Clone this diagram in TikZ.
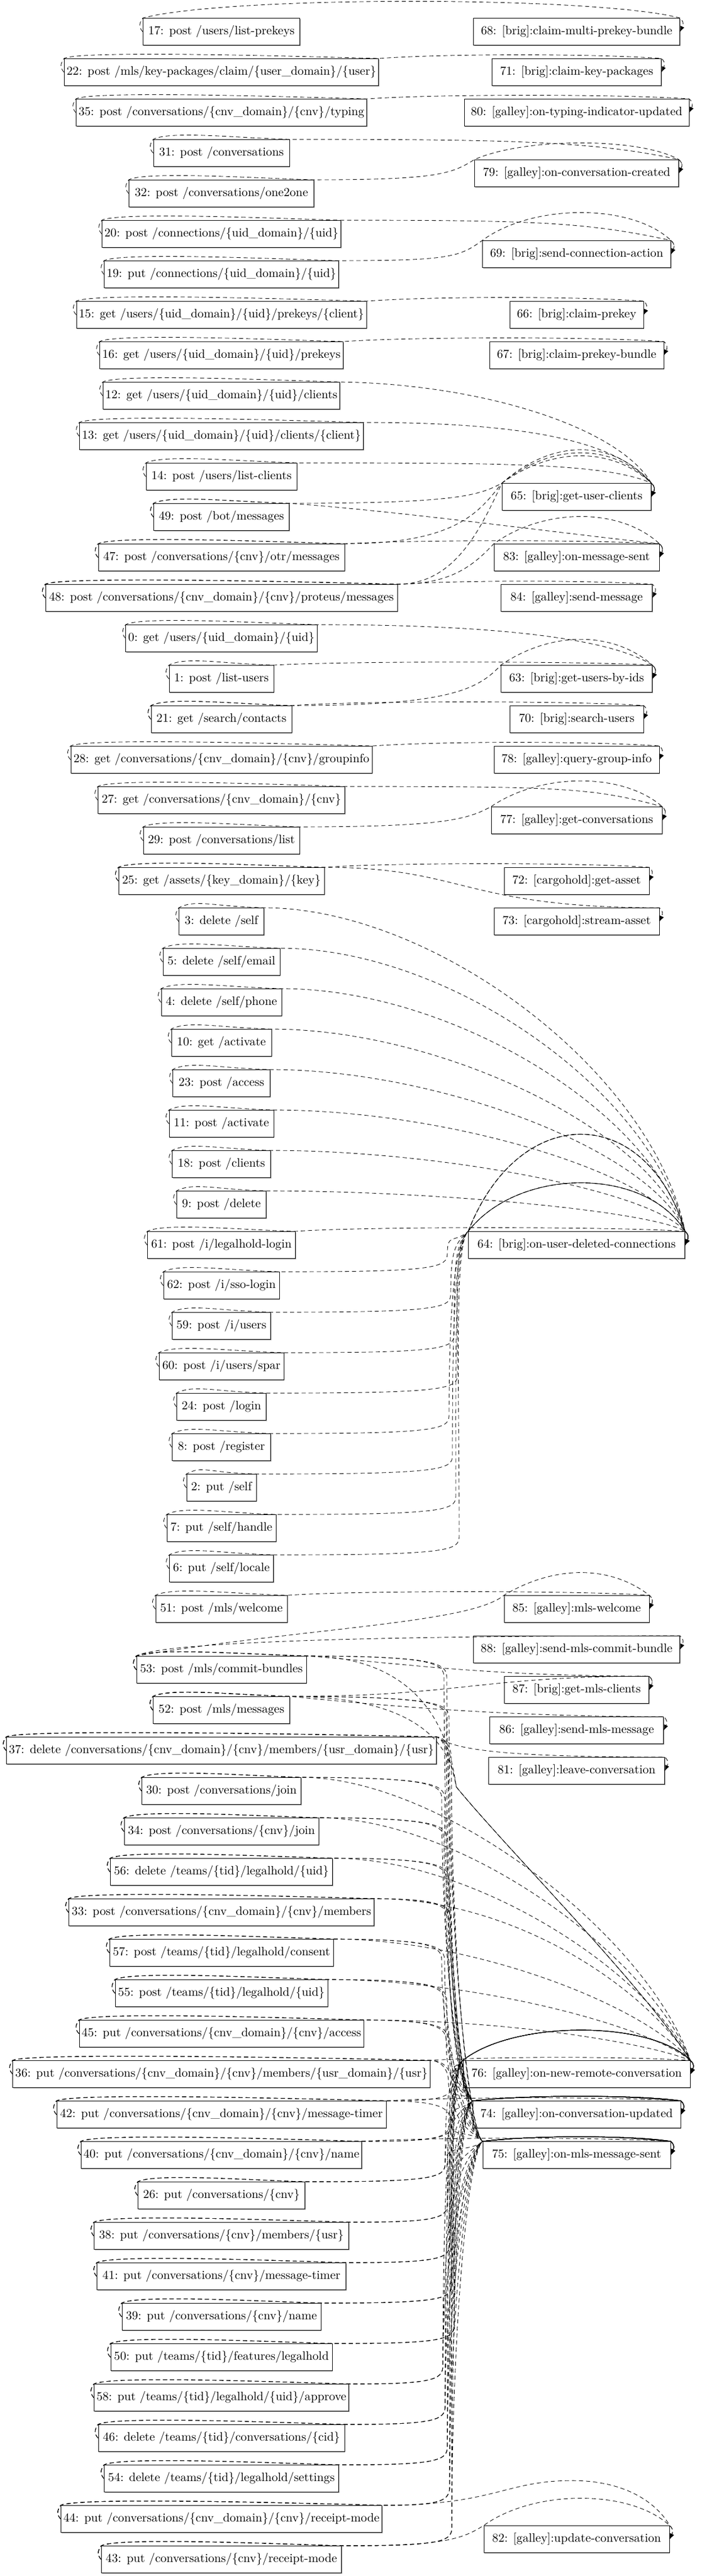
\documentclass[tikz,border=0pt]{standalone}
\usetikzlibrary{shadows,arrows.meta}

\tikzset{
  ep/.style={draw, fill=white, inner xsep=2pt, inner ysep=0pt, minimum height=22.18pt,
    drop shadow={shadow xshift=0.5pt, shadow yshift=-0.5pt, opacity=0.7}},
  bw/.style={minimum width=#1*0.4621pt},
  dep/.style={dash pattern=on 3.4pt off 2.4pt, -{Latex[length=4.6pt,width=3.6pt]}},
}
\newcommand{\fromnode}[1]{(#1.west) .. controls +(-8,-.12) and +(-6,.12) .. (#1.north west) .. controls +(30,-.22) and +(-90,-.03) .. (#1.north east)}
\newcommand{\tonode}[1]{.. controls +(8,.1) and +(5,-.15) .. (#1.east)}

\begin{document}
\begin{tikzpicture}[x=0.4621pt, y=-33.27pt]

                    \useasboundingbox (0,-0.7847) rectangle (1257,62.9097);

                    \node[ep,bw=279] (n17) at (394,0) {17: post /users/list-prekeys};
                    \node[ep,bw=558] (n22) at (394,1) {22: post /mls/key-packages/claim/\{user\_domain\}/\{user\}};
                    \node[ep,bw=515] (n35) at (394,2) {35: post /conversations/\{cnv\_domain\}/\{cnv\}/typing};
                    \node[ep,bw=242] (n31) at (394,3) {31: post /conversations};
                    \node[ep,bw=329] (n32) at (394,4) {32: post /conversations/one2one};
                    \node[ep,bw=422] (n20) at (394,5) {20: post /connections/\{uid\_domain\}/\{uid\}};
                    \node[ep,bw=414] (n19) at (394,6) {19: put /connections/\{uid\_domain\}/\{uid\}};
                    \node[ep,bw=515] (n15) at (394,7) {15: get /users/\{uid\_domain\}/\{uid\}/prekeys/\{client\}};
                    \node[ep,bw=433] (n16) at (394,8) {16: get /users/\{uid\_domain\}/\{uid\}/prekeys};
                    \node[ep,bw=421] (n12) at (394,9) {12: get /users/\{uid\_domain\}/\{uid\}/clients};
                    \node[ep,bw=503] (n13) at (394,10) {13: get /users/\{uid\_domain\}/\{uid\}/clients/\{client\}};
                    \node[ep,bw=268] (n14) at (394,11) {14: post /users/list-clients};
                    \node[ep,bw=241] (n49) at (394,12) {49: post /bot/messages};
                    \node[ep,bw=438] (n47) at (394,13) {47: post /conversations/\{cnv\}/otr/messages};
                    \node[ep,bw=626] (n48) at (394,14) {48: post /conversations/\{cnv\_domain\}/\{cnv\}/proteus/messages};
                    \node[ep,bw=340] (n0) at (394,15) {0: get /users/\{uid\_domain\}/\{uid\}};
                    \node[ep,bw=186] (n1) at (394,16) {1: post /list-users};
                    \node[ep,bw=250] (n21) at (394,17) {21: get /search/contacts};
                    \node[ep,bw=536] (n28) at (394,18) {28: get /conversations/\{cnv\_domain\}/\{cnv\}/groupinfo};
                    \node[ep,bw=439] (n27) at (394,19) {27: get /conversations/\{cnv\_domain\}/\{cnv\}};
                    \node[ep,bw=278] (n29) at (394,20) {29: post /conversations/list};
                    \node[ep,bw=366] (n25) at (394,21) {25: get /assets/\{key\_domain\}/\{key\}};
                    \node[ep,bw=151] (n3) at (394,22) {3: delete /self};
                    \node[ep,bw=208] (n5) at (394,23) {5: delete /self/email};
                    \node[ep,bw=214] (n4) at (394,24) {4: delete /self/phone};
                    \node[ep,bw=178] (n10) at (394,25) {10: get /activate};
                    \node[ep,bw=173] (n23) at (394,26) {23: post /access};
                    \node[ep,bw=186] (n11) at (394,27) {11: post /activate};
                    \node[ep,bw=175] (n18) at (394,28) {18: post /clients};
                    \node[ep,bw=159] (n9) at (394,29) {9: post /delete};
                    \node[ep,bw=263] (n61) at (394,30) {61: post /i/legalhold-login};
                    \node[ep,bw=206] (n62) at (394,31) {62: post /i/sso-login};
                    \node[ep,bw=175] (n59) at (394,32) {59: post /i/users};
                    \node[ep,bw=222] (n60) at (394,33) {60: post /i/users/spar};
                    \node[ep,bw=159] (n24) at (394,34) {24: post /login};
                    \node[ep,bw=175] (n8) at (394,35) {8: post /register};
                    \node[ep,bw=124] (n2) at (394,36) {2: put /self};
                    \node[ep,bw=194] (n7) at (394,37) {7: put /self/handle};
                    \node[ep,bw=185] (n6) at (394,38) {6: put /self/locale};
                    \node[ep,bw=234] (n51) at (394,39) {51: post /mls/welcome};
                    \node[ep,bw=302] (n53) at (394,40.5) {53: post /mls/commit-bundles};
                    \node[ep,bw=243] (n52) at (394,41.5) {52: post /mls/messages};
                    \node[ep,bw=762] (n37) at (394,42.5) {37: delete /conversations/\{cnv\_domain\}/\{cnv\}/members/\{usr\_domain\}/\{usr\}};
                    \node[ep,bw=283] (n30) at (394,43.5) {30: post /conversations/join};
                    \node[ep,bw=346] (n34) at (394,44.5) {34: post /conversations/\{cnv\}/join};
                    \node[ep,bw=395] (n56) at (394,45.5) {56: delete /teams/\{tid\}/legalhold/\{uid\}};
                    \node[ep,bw=543] (n33) at (394,46.5) {33: post /conversations/\{cnv\_domain\}/\{cnv\}/members};
                    \node[ep,bw=398] (n57) at (394,47.5) {57: post /teams/\{tid\}/legalhold/consent};
                    \node[ep,bw=378] (n55) at (394,48.5) {55: post /teams/\{tid\}/legalhold/\{uid\}};
                    \node[ep,bw=506] (n45) at (394,49.5) {45: put /conversations/\{cnv\_domain\}/\{cnv\}/access};
                    \node[ep,bw=734] (n36) at (394,50.5) {36: put /conversations/\{cnv\_domain\}/\{cnv\}/members/\{usr\_domain\}/\{usr\}};
                    \node[ep,bw=586] (n42) at (394,51.5) {42: put /conversations/\{cnv\_domain\}/\{cnv\}/message-timer};
                    \node[ep,bw=496] (n40) at (394,52.5) {40: put /conversations/\{cnv\_domain\}/\{cnv\}/name};
                    \node[ep,bw=297] (n26) at (394,53.5) {26: put /conversations/\{cnv\}};
                    \node[ep,bw=453] (n38) at (394,54.5) {38: put /conversations/\{cnv\}/members/\{usr\}};
                    \node[ep,bw=443] (n41) at (394,55.5) {41: put /conversations/\{cnv\}/message-timer};
                    \node[ep,bw=354] (n39) at (394,56.5) {39: put /conversations/\{cnv\}/name};
                    \node[ep,bw=394] (n50) at (394,57.5) {50: put /teams/\{tid\}/features/legalhold};
                    \node[ep,bw=451] (n58) at (394,58.5) {58: put /teams/\{tid\}/legalhold/\{uid\}/approve};
                    \node[ep,bw=438] (n46) at (394,59.5) {46: delete /teams/\{tid\}/conversations/\{cid\}};
                    \node[ep,bw=417] (n54) at (394,60.5) {54: delete /teams/\{tid\}/legalhold/settings};
                    \node[ep,bw=569] (n44) at (394,61.5) {44: put /conversations/\{cnv\_domain\}/\{cnv\}/receipt-mode};
                    \node[ep,bw=427] (n43) at (394,62.5) {43: put /conversations/\{cnv\}/receipt-mode};

                    \node[ep,bw=367] (n68) at (1026,0) {68: [brig]:claim-multi-prekey-bundle};
                    \node[ep,bw=301] (n71) at (1026,1) {71: [brig]:claim-key-packages};
                    \node[ep,bw=400] (n80) at (1026,2) {80: [galley]:on-typing-indicator-updated};
                    \node[ep,bw=363] (n79) at (1026,3.5) {79: [galley]:on-conversation-created};
                    \node[ep,bw=335] (n69) at (1026,5.5) {69: [brig]:send-connection-action};
                    \node[ep,bw=238] (n66) at (1026,7) {66: [brig]:claim-prekey};
                    \node[ep,bw=310] (n67) at (1026,8) {67: [brig]:claim-prekey-bundle};
                    \node[ep,bw=265] (n65) at (1026,11.5) {65: [brig]:get-user-clients};
                    \node[ep,bw=294] (n83) at (1026,13) {83: [galley]:on-message-sent};
                    \node[ep,bw=269] (n84) at (1026,14) {84: [galley]:send-message};
                    \node[ep,bw=269] (n63) at (1026,16) {63: [brig]:get-users-by-ids};
                    \node[ep,bw=238] (n70) at (1026,17) {70: [brig]:search-users};
                    \node[ep,bw=294] (n78) at (1026,18) {78: [galley]:query-group-info};
                    \node[ep,bw=304] (n77) at (1026,19.5) {77: [galley]:get-conversations};
                    \node[ep,bw=258] (n72) at (1026,21) {72: [cargohold]:get-asset};
                    \node[ep,bw=294] (n73) at (1026,22) {73: [cargohold]:stream-asset};
                    \node[ep,bw=385] (n64) at (1026,30) {64: [brig]:on-user-deleted-connections};
                    \node[ep,bw=258] (n85) at (1026,39) {85: [galley]:mls-welcome};
                    \node[ep,bw=367] (n88) at (1026,40) {88: [galley]:send-mls-commit-bundle};
                    \node[ep,bw=257] (n87) at (1026,41) {87: [brig]:get-mls-clients};
                    \node[ep,bw=309] (n86) at (1026,42) {86: [galley]:send-mls-message};
                    \node[ep,bw=313] (n81) at (1026,43) {81: [galley]:leave-conversation};
                    \node[ep,bw=404] (n76) at (1026,50.5) {76: [galley]:on-new-remote-conversation};
                    \node[ep,bw=370] (n74) at (1026,51.5) {74: [galley]:on-conversation-updated};
                    \node[ep,bw=334] (n75) at (1026,52.5) {75: [galley]:on-mls-message-sent};
                    \node[ep,bw=330] (n82) at (1026,62) {82: [galley]:update-conversation};

                    % same row
                    \draw[dep] (n17.west) .. controls +(-8,-.12) and +(-6,.12) .. (n17.north west) .. controls +(150,-.55) and +(-150,-.55) .. (n68.north east) \tonode{n68};
                    \foreach \src/\dst/\hh in {n22/n71/.12, n35/n80/.12, n15/n66/.12, n16/n67/.12, n47/n83/.1, n48/n84/.1, n1/n63/.1, n21/n70/.12, n28/n78/.12, n25/n72/.12, n61/n64/.12, n51/n85/.12, n36/n76/.1, n42/n74/.1, n40/n75/.1}
                        \draw[dep] \fromnode{\src} .. controls +(120,-\hh) and +(-120,-\hh) .. (\dst.north east) \tonode{\dst};

                    % down to the right
                    \foreach \src/\dst/\ax/\ay/\bx/\by in {n31/n79/400/0/-150/-.45, n20/n69/350/0/-150/-.45, n12/n65/250/.05/-60/-1.4, n13/n65/300/0/-60/-1, n14/n65/350/0/-80/-.5, n49/n83/200/.2/-200/-.3, n0/n63/300/0/-80/-.7, n27/n77/400/0/-120/-.45, n25/n73/250/0/-350/0, n53/n87/150/.15/-300/0, n52/n86/150/.2/-300/0, n52/n87/300/0/-300/0, n37/n81/30/.3/-300/0}
                        \draw[dep] \fromnode{\src} .. controls +(\ax,\ay) and +(\bx,\by) .. (\dst.north east) \tonode{\dst};

                    % up and over the right box
                    \foreach \src/\dst/\ax/\cy/\hh in {n32/n79/220/.35/.55, n19/n69/200/.4/.92, n49/n65/300/.3/.9, n47/n65/200/.7/1, n48/n65/100/1.2/1.1, n48/n83/90/.6/.9, n21/n63/280/.6/.85, n29/n77/260/.3/.85, n43/n82/180/.35/.9}
                        \draw[dep] \fromnode{\src} .. controls +(\ax,0) and +(-40,\cy) .. (\dst.north west) .. controls +(90,-\hh) and +(-70,-\hh) .. (\dst.north east) \tonode{\dst};

                    \draw[dep] (n53.west) .. controls +(-8,-.12) and +(-6,.12) .. (n53.north west) .. controls +(60,-.45) and +(-300,0) .. (n88.north east) \tonode{n88};
                    \draw[dep] (n53.west) .. controls +(-8,-.12) and +(-6,.12) .. (n53.north west) .. controls +(300,-.7) and +(-60,.7) .. (n85.north west) .. controls +(90,-.75) and +(-70,-.75) .. (n85.north east) \tonode{n85};
                    \draw[dep] \fromnode{n44} .. controls +(200,0) and +(-120,0) .. (1018,60.55) .. controls +(100,0) and +(-20,-.5) .. (n82.north east) \tonode{n82};

                    % 64
                    \foreach \src/\rw in {n3/22, n5/23, n4/24, n10/25, n23/26, n11/27, n18/28, n9/29}
                        \draw[dep] \fromnode{\src} .. controls +(300,0) and +(-60,{-.5*(30-\rw)}) .. (n64.north east) \tonode{n64};
                    \foreach \src/\rw/\tx/\hh in {n62/31/796/1.6, n59/32/802/1.6, n60/33/808/1.6, n24/34/814/1.6, n8/35/799/3.2, n2/36/805/3.2, n7/37/811/3.2, n6/38/817/3.2}
                        \draw[dep] \fromnode{\src} .. controls (\tx-15,\rw-.333) and (\tx,\rw-.45) .. (\tx,\rw-.8) .. controls +(0,{-.5*(\rw-30)}) and +(-25,.3) .. (n64.north west) .. controls +(90,-\hh) and +(-70,-\hh) .. (n64.north east) \tonode{n64};

                    % 76, 74, 75
                    \foreach \src/\rw in {n53/40.5, n52/41.5, n37/42.5}
                        \draw[dep] \fromnode{\src} .. controls (790,\rw-.333) and (805,42.9) .. (812,43.4) .. controls (900,44.9) and (1150,48.4) .. (n76.north east) \tonode{n76};
                    \foreach \src/\rw in {n30/43.5, n34/44.5, n56/45.5, n33/46.5, n57/47.5, n55/48.5, n45/49.5}
                        \draw[dep] \fromnode{\src} .. controls +(250,0) and +(-80,{-.45*(50.5-\rw)}) .. (n76.north east) \tonode{n76};
                    \foreach \src/\rw/\tx in {n53/40.5/790, n52/41.5/794, n37/42.5/798, n30/43.5/786, n34/44.5/790, n56/45.5/794, n33/46.5/798, n57/47.5/786, n55/48.5/790, n45/49.5/794, n36/50.5/798}
                        \foreach \dst/\rt/\dx in {n74/51.5/0, n75/52.5/5}
                            \draw[dep] \fromnode{\src} .. controls (\tx+\dx-15,\rw-.333) and (\tx+\dx,\rw-.15) .. (\tx+\dx,\rw+.2) .. controls +(0,{.5*(\rt-\rw)}) and +(-25,-.3) .. (\dst.north west) .. controls +(100,-.15) and +(-100,-.15) .. (\dst.north east) \tonode{\dst};
                    \draw[dep] \fromnode{n42} .. controls (787,51.167) and (802,51.35) .. (802,51.7) .. controls +(0,.4) and +(-25,-.3) .. (n75.north west) .. controls +(100,-.15) and +(-100,-.15) .. (n75.north east) \tonode{n75};
                    \foreach \src/\rw/\tx in {n26/53.5/792, n38/54.5/796, n41/55.5/800, n39/56.5/804, n50/57.5/808, n58/58.5/788, n46/59.5/792, n54/60.5/796, n44/61.5/800, n43/62.5/804}
                        \foreach \dst/\rt/\hh in {n76/50.5/1, n74/51.5/.15, n75/52.5/.15}
                            \draw[dep] \fromnode{\src} .. controls (\tx-15,\rw-.333) and (\tx,\rw-.45) .. (\tx,\rw-.8) .. controls +(0,{-.5*(\rw-\rt)}) and +(-25,.3) .. (\dst.north west) .. controls +(90,-\hh) and +(-70,-\hh) .. (\dst.north east) \tonode{\dst};
                    \foreach \src/\rw/\tx/\dst/\rt/\hh in {n40/52.5/800/n76/50.5/1, n40/52.5/804/n74/51.5/.15, n42/51.5/806/n76/50.5/1}
                        \draw[dep] \fromnode{\src} .. controls (\tx-15,\rw-.333) and (\tx,\rw-.45) .. (\tx,\rw-.8) .. controls +(0,{-.5*(\rw-\rt)}) and +(-25,.3) .. (\dst.north west) .. controls +(90,-\hh) and +(-70,-\hh) .. (\dst.north east) \tonode{\dst};

\end{tikzpicture}
\end{document}
